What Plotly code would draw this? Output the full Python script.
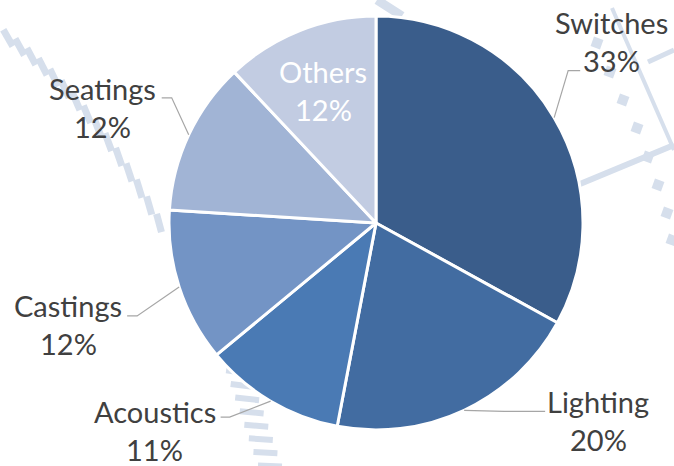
import math
import plotly.graph_objects as go

# Product share by category
categories = ["Switches", "Lighting", "Acoustics", "Castings", "Seatings", "Others"]
shares = [33, 20, 11, 12, 12, 12]
label_texts = ["33%", "20%", "11%", "12%", "12%", "12%"]

colors = ["#3A5D8B", "#426CA1", "#4A7AB4", "#7394C5", "#A1B4D5", "#C2CCE2"]

W, H = 674, 466
CX, CY, R = 376, 223, 207  # pie centre and radius in pixels

FONT = "Lato, Roboto, sans-serif"
TEXT_COLOR = "#404040"
FS = 29
DECOR = "#D6DFEC"


def px(x):
    return x / W


def py(y):
    return 1 - y / H


def bar(cx, cy, length, thick, angle_deg, color=DECOR):
    """Faint rotated rectangle used for the blueprint-style backdrop."""
    a = math.radians(angle_deg)
    ux, uy = math.cos(a) * length / 2, math.sin(a) * length / 2
    vx, vy = -math.sin(a) * thick / 2, math.cos(a) * thick / 2
    pts = [(cx - ux - vx, cy - uy - vy), (cx + ux - vx, cy + uy - vy),
           (cx + ux + vx, cy + uy + vy), (cx - ux + vx, cy - uy + vy)]
    path = "M " + " L ".join(f"{px(x)} {py(y)}" for x, y in pts) + " Z"
    return dict(type="path", xref="paper", yref="paper", path=path,
                fillcolor=color, line=dict(width=0), layer="below")


def line(x0, y0, x1, y1, width, color=DECOR):
    return dict(type="line", xref="paper", yref="paper",
                x0=px(x0), y0=py(y0), x1=px(x1), y1=py(y1),
                line=dict(color=color, width=width), layer="below")


# Backdrop decoration: a curved comb of short bars on the left,
# and a few thin lines with square dots on the right
shapes = []
n_top = 15
for k in range(n_top):
    t = k / (n_top - 1)
    bx = 8 + 165 * t - 14 * t * t
    by = 38 + 120 * t + 65 * t * t
    shapes.append(bar(bx, by, 19, 7, 60 + 15 * t))
n_bot = 8
for k in range(n_bot):
    t = k / (n_bot - 1)
    shapes.append(bar(238 + 32 * t, 372 + 94 * t, 24, 6, 8 - 6 * t))
shapes.append(line(377, 0, 402, 16, 9))
shapes.append(line(612, 8, 674, 150, 4))
shapes.append(line(580, 184, 674, 145, 6))
shapes.append(line(648, 62, 674, 50, 5))
for (sx, sy) in [(597, 43), (610, 72), (623, 100), (637, 128), (648, 157),
                 (658, 185), (667, 213), (672, 240)]:
    shapes.append(bar(sx, sy, 10, 10, 20))

fig = go.Figure()
fig.add_trace(go.Pie(
    labels=categories,
    values=shares,
    sort=False,
    direction="clockwise",
    rotation=0,
    textinfo="none",
    hoverinfo="label+percent",
    marker=dict(colors=colors, line=dict(color="white", width=3)),
    domain=dict(x=[px(CX - R), px(CX + R)], y=[py(CY + R), py(CY - R)]),
    showlegend=False,
))

# Mid-angle of each slice (clockwise from 12 o'clock) and its edge point
total = sum(shares)
edge_pts = []
acc = 0
for v in shares:
    mid = (acc + v / 2) / total * 2 * math.pi
    edge_pts.append((CX + R * math.sin(mid), CY - R * math.cos(mid)))
    acc += v

# Leader layout per label: elbow offset, end offset, text centre offset (pixels)
leaders = {
    "Switches": dict(elbow=(14, -47), end=(26, -47), text=(57, -76)),
    "Lighting": dict(elbow=(40, 1), end=(81, 1), text=(134, 10)),
    "Acoustics": dict(elbow=(-41, 16), end=(-50, 16), text=(-116, 29)),
    "Castings": dict(elbow=(-42, 29), end=(-52, 29), text=(-111, 38)),
    "Seatings": dict(elbow=(-17, -37), end=(-27, -37), text=(-86, -27)),
}

annotations = []
for i, name in enumerate(categories):
    ex, ey = edge_pts[i]
    if name in leaders:
        L = leaders[name]
        bx, by = ex + L["elbow"][0], ey + L["elbow"][1]
        qx, qy = ex + L["end"][0], ey + L["end"][1]
        shapes.append(dict(
            type="path", xref="paper", yref="paper",
            path=f"M {px(ex)} {py(ey)} L {px(bx)} {py(by)} L {px(qx)} {py(qy)}",
            line=dict(color="#A6A6A6", width=1.2),
        ))
        tx, ty = ex + L["text"][0], ey + L["text"][1]
        col = TEXT_COLOR
    else:
        # label placed inside the slice
        tx, ty = CX + 0.69 * (ex - CX), CY + 0.69 * (ey - CY)
        col = "white"
    annotations.append(dict(
        x=px(tx), y=py(ty - 19), xref="paper", yref="paper",
        text=name, showarrow=False, xanchor="center", yanchor="middle",
        font=dict(family=FONT, size=FS, color=col),
    ))
    annotations.append(dict(
        x=px(tx), y=py(ty + 19), xref="paper", yref="paper",
        text=label_texts[i], showarrow=False, xanchor="center", yanchor="middle",
        font=dict(family=FONT, size=FS, color=col),
    ))

fig.update_layout(
    width=W, height=H,
    margin=dict(l=0, r=0, t=0, b=0),
    paper_bgcolor="white",
    plot_bgcolor="white",
    shapes=shapes,
    annotations=annotations,
)

fig.write_html("out.html")
